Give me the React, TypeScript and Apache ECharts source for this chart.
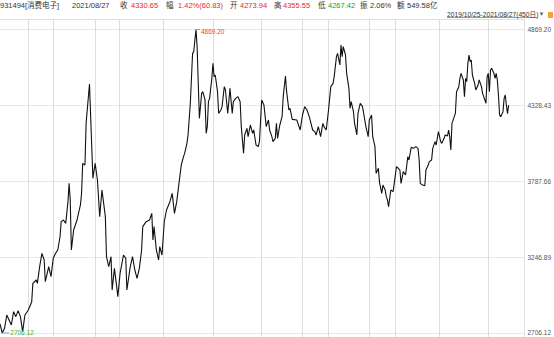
import React, { useEffect, useRef } from 'react';
import * as echarts from 'echarts';

// trading-day index (0 = 2019/10/25, 449 = 2021/08/27) and closing values
const dayIdx = [
  0, 2, 4, 6, 8, 10, 12, 14, 16, 18, 20, 22, 25, 28, 29, 32, 33, 35, 37, 39, 40, 43, 45, 47, 49, 51, 53, 54, 56, 58,
  60, 61, 62, 63, 65, 68, 71, 72, 73, 75, 76, 79, 82, 84, 86, 88, 90, 93, 94, 96, 98, 99, 101, 103, 104, 106, 109, 111, 112, 115,
  117, 119, 121, 123, 125, 126, 129, 132, 134, 135, 136, 138, 140, 141, 143, 145, 147, 150, 152, 154, 156, 158, 160, 162, 163, 165, 166, 168, 170, 171,
  173, 174, 176, 178, 179, 181, 182, 183, 184, 185, 187, 188, 189, 190, 192, 193, 195, 196, 198, 199, 201, 202, 203, 205, 206, 208, 210, 212, 213, 215,
  216, 218, 219, 221, 223, 224, 226, 228, 229, 231, 233, 235, 237, 238, 240, 241, 243, 244, 245, 247, 249, 250, 252, 253, 255, 256, 258, 262, 263, 265,
  267, 269, 271, 273, 276, 278, 279, 281, 283, 285, 286, 288, 290, 291, 292, 294, 295, 297, 298, 300, 301, 302, 303, 305, 306, 308, 309, 310, 312, 313,
  315, 316, 318, 320, 322, 323, 325, 326, 328, 329, 331, 332, 334, 335, 337, 338, 340, 341, 342, 343, 345, 347, 348, 350, 351, 353, 354, 356, 358, 360,
  361, 363, 365, 367, 369, 370, 371, 373, 375, 376, 378, 379, 381, 382, 384, 385, 387, 389, 390, 392, 393, 395, 396, 397, 398, 399, 401, 402, 403, 405,
  406, 407, 409, 410, 411, 412, 413, 414, 415, 416, 417, 419, 420, 422, 423, 425, 426, 428, 429, 430, 431, 432, 433, 434, 436, 437, 438, 439, 440, 441,
  442, 444, 445, 446, 447, 448, 449,
];
const closes = [
  2770.3, 2706.12, 2739.4, 2834.4, 2798.8, 2763.1, 2858.2, 2822.5, 2865.3, 2822.5, 2715.6, 2834.4, 2870.0, 2929.4, 3060.1, 3083.9, 3060.1, 3178.9, 3273.9, 3226.4, 3072.0, 3178.9, 3107.6, 3238.3, 3273.9, 3297.7, 3392.7, 3499.6, 3511.5, 3487.7,
  3642.1, 3772.8, 3654.0, 3297.7, 3440.2, 3511.5, 3618.4, 3701.5, 3915.4, 3903.5, 4200.4, 4480.8, 3808.5, 3915.4, 3796.6, 3535.2, 3725.3, 3535.2, 3250.2, 3178.9, 3250.2, 3012.6, 3167.0, 3036.3, 2965.1, 3131.4, 3262.0, 3238.3, 3012.6, 3178.9,
  3250.2, 3155.1, 3095.7, 3167.0, 3297.7, 3464.0, 3499.6, 3511.5, 3559.0, 3368.9, 3464.0, 3297.7, 3226.4, 3321.4, 3262.0, 3499.6, 3582.8, 3642.1, 3701.5, 3559.0, 3642.1, 3772.8, 3903.5, 3962.9, 3986.6, 4057.9, 4117.3, 4343.0, 4699.3, 4711.2,
  4869.2, 4746.9, 4236.1, 4414.3, 4426.1, 4366.7, 4129.2, 4176.7, 4354.9, 4378.6, 4521.2, 4628.1, 4533.0, 4544.9, 4426.1, 4271.7, 4295.5, 4319.2, 4461.8, 4438.0, 4271.7, 4354.9, 4449.9, 4271.7, 4354.9, 4378.6, 4390.5, 4354.9, 4176.7, 3986.6,
  4117.3, 4164.8, 4105.4, 4188.6, 4129.2, 4152.9, 4046.0, 4034.1, 4069.8, 4366.7, 4331.1, 4176.7, 4224.2, 4152.9, 4105.4, 4069.8, 4093.5, 4200.4, 4093.5, 4188.6, 4248.0, 4390.5, 4537.8, 4426.1, 4295.5, 4307.3, 4228.9, 4224.2, 4200.4, 4152.9,
  4259.8, 4319.2, 4295.5, 4248.0, 4152.9, 4140.0, 4117.3, 4176.7, 4105.4, 4200.4, 4176.7, 4152.9, 4295.5, 4378.6, 4461.8, 4485.5, 4533.0, 4675.6, 4699.3, 4616.2, 4758.7, 4675.6, 4746.9, 4687.5, 4556.8, 4449.9, 4307.3, 4354.9, 4283.6, 4200.4,
  4117.3, 4271.7, 4343.0, 4319.2, 4224.2, 4176.7, 4105.4, 4224.2, 4259.8, 4105.4, 4034.1, 3844.1, 3879.7, 3780.0, 3701.5, 3760.9, 3725.3, 3677.8, 3654.0, 3606.5, 3725.3, 3713.4, 3772.8, 3891.6, 3885.0, 3867.8, 3772.8, 3856.0, 3832.2, 3962.9,
  3939.1, 4029.4, 4022.3, 4034.1, 4022.3, 3939.1, 3772.8, 3760.9, 3755.0, 3867.8, 3903.5, 3927.2, 3939.1, 4022.3, 4069.8, 4046.0, 4141.0, 4069.8, 4057.9, 4093.5, 4117.3, 4110.0, 4152.9, 4105.4, 4010.4, 4200.4, 4248.0, 4271.7, 4426.1, 4461.8,
  4521.2, 4556.8, 4509.3, 4390.5, 4521.2, 4497.4, 4628.1, 4687.5, 4639.9, 4651.8, 4544.9, 4485.5, 4438.0, 4473.6, 4509.3, 4461.8, 4414.3, 4366.7, 4343.0, 4533.0, 4556.8, 4426.1, 4580.5, 4592.4, 4556.8, 4521.2, 4556.8, 4509.3, 4402.4, 4259.8,
  4248.0, 4283.6, 4378.6, 4402.4, 4331.1, 4269.82, 4330.65,
];

// y-axis tick labels (right side)
const yTicks = [2706.12, 3246.89, 3787.66, 4328.43, 4869.2];
// trading-day index of month starts that get a vertical grid line
const monthStartIdx = [25, 47, 84, 105, 144, 188, 231, 267, 290, 326, 349, 388, 431];

// header texts
const headerTexts = ['931494[消费电子]', '2021/08/27', '收', '4330.65', '幅', '1.42%(60.83)', '开', '4273.94', '高', '4355.55', '低', '4267.42', '振', '2.06%', '额', '549.58亿'];
const headerKinds = ['n', 'n', 'n', 'up', 'n', 'up', 'n', 'up', 'n', 'up', 'n', 'down', 'n', 'n', 'n', 'n'];
const rangeText = '2019/10/25-2021/08/27(450日)';

const FONT = '"Liberation Sans", Arial, "Noto Sans CJK SC", sans-serif';

export default function App() {
  const ref = useRef<HTMLDivElement>(null);

  useEffect(() => {
    if (!ref.current) return;
    const chart = echarts.init(ref.current, undefined, { renderer: 'svg' });
    const data = dayIdx.map((d, i) => [d, closes[i]]);

    const headerX = [0, 72, 120, 131, 166, 178, 230, 240, 274, 283, 318, 328, 360, 370, 397, 407];
    const kindColor: Record<string, string> = { n: '#333333', up: '#e82828', down: '#1e9a1e' };
    const graphic: any[] = headerTexts.map((t, i) => ({
      type: 'text',
      x: headerX[i],
      y: 5,
      silent: true,
      style: {
        text: t,
        fill: kindColor[headerKinds[i]],
        font: `7.5px ${FONT}`,
        textVerticalAlign: 'middle',
        textAlign: 'left',
      },
    }));
    graphic.push(
      {
        type: 'text',
        x: 447,
        y: 14,
        silent: true,
        style: { text: rangeText, fill: '#333', font: `6.7px ${FONT}`, textVerticalAlign: 'middle' },
      },
      {
        type: 'line',
        silent: true,
        shape: { x1: 447, y1: 17.5, x2: 537, y2: 17.5 },
        style: { stroke: '#555', lineWidth: 0.6 },
      },
      {
        type: 'text',
        x: 538.5,
        y: 14,
        silent: true,
        style: { text: '▼', fill: '#666', font: `6px ${FONT}`, textVerticalAlign: 'middle' },
      },
      {
        type: 'rect',
        silent: true,
        shape: { x: 548, y: 12, width: 5, height: 6 },
        style: { fill: '#f2a23a' },
      }
    );

    const option: any = {
      animation: false,
      backgroundColor: '#ffffff',
      textStyle: { fontFamily: FONT },
      grid: { left: 0, right: 29, top: 19, bottom: 0 },
      xAxis: {
        type: 'value',
        min: 0,
        max: 463,
        position: 'top',
        axisLine: { show: true, onZero: false, lineStyle: { color: '#e0e0e0', width: 1 } },
        axisTick: { show: false, customValues: monthStartIdx },
        axisLabel: { show: false, customValues: monthStartIdx },
        splitLine: { show: true, lineStyle: { color: '#dedede', width: 1 } },
      },
      yAxis: {
        type: 'value',
        position: 'right',
        min: 2677.6,
        max: 4944.0,
        axisLine: { show: true, onZero: false, lineStyle: { color: '#e0e0e0', width: 1 } },
        axisTick: { show: false, customValues: yTicks },
        axisLabel: {
          customValues: yTicks,
          formatter: (v: number) => v.toFixed(2),
          fontSize: 6.5,
          color: '#555',
          margin: 3,
          fontFamily: FONT,
        },
        splitLine: { show: true, lineStyle: { color: '#e8e8e8', width: 1 } },
      },
      series: [
        {
          type: 'line',
          data,
          z: 3,
          showSymbol: false,
          symbol: 'none',
          lineStyle: { color: '#111111', width: 1.1 },
          markPoint: {
            symbol: 'rect',
            symbolKeepAspect: false,
            silent: true,
            data: [
              {
                type: 'max',
                symbolSize: [4, 1],
                symbolOffset: [2, 0],
                itemStyle: { color: '#4fb9e0' },
                label: {
                  show: true,
                  position: 'right',
                  distance: 1,
                  offset: [0, 2],
                  color: '#f04040',
                  fontSize: 6.5,
                  fontFamily: FONT,
                  formatter: (p: any) => Number(p.value).toFixed(2),
                },
              },
              {
                type: 'min',
                symbolSize: [7, 1],
                symbolOffset: [3.5, 0],
                itemStyle: { color: '#4fb9e0' },
                label: {
                  show: true,
                  position: 'right',
                  distance: 1,
                  color: '#4cae4c',
                  fontSize: 6.5,
                  fontFamily: FONT,
                  formatter: (p: any) => Number(p.value).toFixed(2),
                },
              },
            ],
          },
        },
      ],
      graphic,
    };
    chart.setOption(option);
    return () => chart.dispose();
  }, []);

  return (
    <div
      ref={ref}
      style={{ position: 'fixed', left: 0, top: 0, width: 554, height: 337, background: '#fff' }}
    />
  );
}
